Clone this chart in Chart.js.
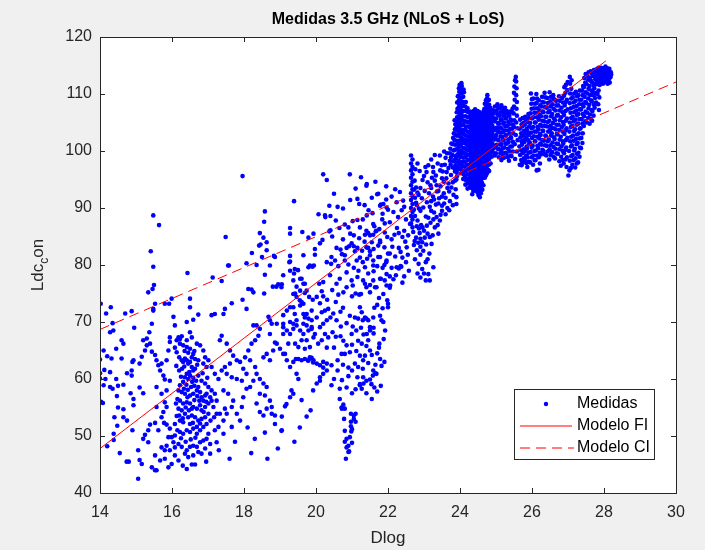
<!DOCTYPE html>
<html>
<head>
<meta charset="utf-8">
<title>Medidas 3.5 GHz (NLoS + LoS)</title>
<script src="https://cdn.jsdelivr.net/npm/chart.js@4.4.0/dist/chart.umd.min.js"></script>
<style>
  html, body { margin: 0; padding: 0; background: #f0f0f0; }
  canvas { display: block; }
</style>
</head>
<body>
<canvas id="grafico" width="705" height="550"></canvas>
<script>
// Textos y ejes
const titulo = "Medidas 3.5 GHz (NLoS + LoS)";
const etiquetaX = "Dlog";
const etiquetaY = ["Ldc", "c", "on"]; // Ldc_con (c como subíndice)
const nombresSeries = ["Medidas", "Modelo FI", "Modelo CI"];
const ticksX = [14, 16, 18, 20, 22, 24, 26, 28, 30];
const ticksY = [40, 50, 60, 70, 80, 90, 100, 110, 120];

// Modelos (rectas)
const modeloFIx = [14, 28.05];
const modeloFIy = [47.8, 115.8];
const modeloCIx = [14, 30];
const modeloCIy = [68.7, 112.1];

// Medidas [Dlog, Ldc], leidas por zonas del grafico
const medidas14_16 = [[14.02,73.2],[14.17,71.5],[14.3,72.6],[14.35,69.8],[14.28,68.2],[14.37,68.5],[14.6,66.8],[14.65,66.2],[14.45,65.3],[14.1,65.0],[14.0,63.4],[14.32,63.6],[14.6,63.6],[14.12,61.6],[14.28,61.2],[14.0,60.1],[14.15,60.0],[14.45,60.0],[14.1,58.9],[14.28,58.6],[14.5,58.8],[14.65,59.0],[14.35,58.3],[14.08,55.8],[14.47,57.0],[14.5,55.0],[14.65,54.7],[14.4,53.3],[14.65,53.3],[14.75,52.7],[14.38,50.4],[14.48,51.8],[14.38,49.3],[14.2,48.2],[14.0,61.0],[14.03,56.0],[14.2,64.0],[14.75,61.0],[14.85,57.5],[14.9,63.0],[14.95,69.0],[14.8,45.5],[14.9,51.0],[14.55,47.0],[14.7,71.5],[14.88,71.9],
  [15.06,47.5],[15.06,42.5],[15.16,45.1],[15.2,49.5],[15.25,50.2],[15.34,48.9],[15.44,44.5],[15.53,44.0],[15.53,46.6],[15.34,51.0],[15.39,52.0],[15.53,52.3],[14.93,56.5],[14.93,55.4],[15.2,57.5],[15.1,58.5],[14.88,61.5],[14.88,60.6],[15.1,62.7],[15.16,63.9],[14.93,63.3],[15.25,65.0],[15.3,65.9],[15.44,64.8],[15.53,64.2],[15.39,66.2],[15.2,66.8],[15.3,67.1],[15.37,68.2],[15.44,69.7],[15.48,72.0],[15.53,73.2],[15.5,76.5],[15.46,75.8],[15.48,79.7],[15.34,75.2],[15.41,82.4],[15.48,88.7],[15.64,87.0],[15.57,63.3],[15.62,62.4],[15.67,61.5],[15.71,62.7],[15.76,60.6],[15.8,59.9],[15.57,58.6],[15.71,57.4],[15.8,55.9],[15.85,55.1],[15.57,55.1],[15.71,53.3],[15.76,54.2],[15.62,51.0],[15.78,52.3],[15.85,52.0],[15.71,48.0],[15.8,47.5],[15.85,48.3],[15.94,47.5],[15.9,49.8],[15.94,51.3],[15.85,58.0],[15.94,59.7],[15.85,63.3],[15.9,65.0],[15.94,66.5],[15.94,67.3],[15.92,73.2],[15.8,73.2],[15.99,74.1],[15.8,46.0],[15.67,45.7],[15.57,44.0],[15.9,44.5],[15.99,45.1],[15.99,49.8],[15.48,72.3],[14.74,45.5],[15.1,45.8]];

const medidas16_18 = [[16.08,65.5],[16.13,64.7],[16.2,63.8],[16.27,63.3],[16.31,63.0],[16.36,63.6],[16.41,63.3],[16.45,62.7],[16.5,63.0],[16.55,62.1],[16.59,61.5],[16.48,61.2],[16.41,60.9],[16.36,60.3],[16.45,60.0],[16.5,60.6],[16.59,60.2],[16.67,59.7],[16.31,59.5],[16.22,58.9],[16.18,58.0],[16.27,57.7],[16.36,57.4],[16.43,56.8],[16.5,57.1],[16.59,57.4],[16.69,58.0],[16.73,58.6],[16.78,57.7],[16.82,56.8],[16.87,56.2],[16.92,57.1],[16.96,57.4],[17.06,56.8],[17.1,56.2],[17.01,55.7],[16.92,55.1],[16.82,54.5],[16.78,55.4],[16.69,54.8],[16.59,55.1],[16.5,55.7],[16.41,55.9],[16.31,55.7],[16.22,56.2],[16.15,56.5],[16.11,55.7],[16.18,54.8],[16.27,54.5],[16.36,53.9],[16.45,53.3],[16.55,53.6],[16.64,53.3],[16.73,52.7],[16.82,53.0],[16.92,53.3],[17.01,53.9],[16.96,52.1],[16.87,51.6],[16.78,51.0],[16.69,51.6],[16.59,51.3],[16.5,50.7],[16.41,51.0],[16.31,50.4],[16.22,50.7],[16.15,51.0],[16.08,50.1],[16.04,48.9],[16.18,48.6],[16.27,48.1],[16.41,47.5],[16.5,48.1],[16.59,48.3],[16.69,48.1],[16.78,48.9],[16.87,49.2],[16.96,49.5],[17.06,48.6],[16.92,47.8],[16.82,46.9],[16.73,47.2],[16.59,46.6],[16.45,46.3],[16.36,46.9],[16.55,45.0],[16.64,45.0],[16.41,44.2],[16.18,45.7],[16.08,46.6],[16.08,48.0],[16.22,52.7],[16.08,52.1],[16.31,52.4],[16.5,52.1],[16.69,50.4],[17.01,50.4],[17.07,52.7],[17.17,53.3],[17.24,53.9],[17.15,55.1],[17.24,56.2],[17.19,57.4],[17.1,58.0],[17.01,58.6],[16.92,59.2],[16.82,59.7],[16.73,60.6],[16.64,61.8],[16.55,63.8],[16.59,64.4],[16.5,65.3],[16.41,65.6],[16.31,65.9],[16.22,66.2],[16.13,66.8],[16.18,67.3],[16.27,67.5],[16.41,66.8],[16.69,66.2],[16.78,65.9],[16.87,65.0],[16.92,63.8],[17.01,63.3],[17.1,62.1],[17.19,60.9],[17.29,60.0],[16.96,62.1],[16.87,62.7],[16.73,63.3],[16.64,63.5],[16.55,67.3],[16.5,68.2],[16.41,70.0],[16.59,70.4],[16.73,71.3],[16.5,72.6],[16.04,70.9],[16.08,69.4],[16.22,67.0],[16.5,74.1],[16.43,78.6],[17.13,77.8],[17.38,77.2],[17.19,71.4],[17.1,71.2],[17.47,72.3],[17.43,71.4],[17.66,73.3],[17.38,67.6],[17.33,66.8],[17.52,66.2],[17.61,65.0],[17.7,64.1],[17.8,63.3],[17.61,62.7],[17.47,62.1],[17.38,61.5],[17.52,60.9],[17.66,60.3],[17.8,60.0],[17.94,59.7],[17.43,58.0],[17.56,57.4],[17.7,56.2],[17.66,55.1],[17.47,54.8],[17.33,53.9],[17.43,52.7],[17.29,51.6],[17.19,51.0],[17.06,46.9],[17.24,48.9],[17.52,53.9],[17.8,53.9],[17.94,55.1],[17.98,56.8],[17.98,61.8],[17.89,63.0],[17.56,79.9],[17.96,73.9],[17.96,95.6],[17.49,84.9],[17.58,79.9],[17.43,50.4],[17.66,51.6],[17.89,52.7],[16.3,44.8],[17.3,47.5],[17.6,46.0],[16.95,45.5],[17.75,49.0],
  [16.12,62.3],[16.2,61.5],[16.28,61.8],[16.34,62.2],[16.25,60.4],[16.4,59.0],[16.53,58.6],[16.62,58.8],[16.7,57.0],[16.76,56.2],[16.62,56.3],[16.55,54.8],[16.47,54.5],[16.38,55.0],[16.3,53.1],[16.2,53.6],[16.13,53.5],[16.58,52.3],[16.78,52.2],[16.88,54.2],[16.95,56.0],[16.98,60.2],[16.85,61.0],[16.7,62.5],[16.62,64.9],[16.45,64.6],[16.35,64.9],[16.25,49.6],[16.38,49.0],[16.52,49.4],[16.65,49.7],[16.44,58.1],[16.33,58.3],[16.56,59.5]];

const medidas18_20 = [[18.07,58.3],[18.17,58.6],[18.26,59.7],[18.07,60.9],[18.03,63.8],[18.12,65.0],[18.21,66.2],[18.31,66.8],[18.4,67.6],[18.44,68.8],[18.35,69.4],[18.26,69.4],[18.17,63.3],[18.31,62.1],[18.35,60.9],[18.44,60.0],[18.54,59.2],[18.63,58.6],[18.44,57.4],[18.58,57.1],[18.72,56.2],[18.77,55.1],[18.63,54.8],[18.54,53.6],[18.44,54.2],[18.35,55.7],[18.77,53.9],[18.86,53.6],[19.05,53.4],[19.05,51.0],[18.54,63.8],[18.63,64.4],[18.72,63.3],[18.81,65.0],[18.91,66.2],[19.0,65.3],[19.09,64.4],[19.19,63.3],[19.28,62.1],[19.37,63.0],[19.51,63.5],[19.6,63.3],[19.69,63.5],[19.79,63.3],[19.83,63.8],[19.93,63.3],[19.46,60.9],[19.51,60.0],[19.32,58.0],[19.37,57.4],[19.28,56.8],[18.72,70.3],[18.68,70.9],[18.91,69.7],[19.09,69.1],[19.19,68.5],[19.28,67.9],[19.37,68.8],[19.46,69.4],[19.56,68.5],[19.65,67.9],[19.74,66.8],[19.83,65.6],[19.42,66.2],[19.51,65.6],[19.6,66.8],[19.69,65.3],[19.79,68.5],[19.88,69.1],[19.93,67.3],[18.07,80.3],[18.58,78.3],[18.72,79.9],[19.26,80.5],[19.28,79.0],[19.83,79.9],[19.94,79.9],[18.07,72.3],[18.26,75.2],[18.21,75.7],[18.12,75.8],[18.56,75.0],[18.8,76.2],[18.95,76.6],[19.05,76.6],[19.09,78.2],[19.37,77.3],[19.39,78.5],[19.56,77.6],[19.65,76.7],[19.79,79.6],[19.46,76.2],[19.56,75.5],[19.69,75.1],[19.42,75.0],[19.46,74.4],[19.6,73.5],[19.56,72.9],[19.28,72.6],[19.19,72.0],[19.09,71.2],[19.81,74.4],[19.91,73.9],[19.88,72.0],[19.74,71.4],[19.65,71.4],[19.79,70.6],[19.88,70.3],[19.46,70.3],[19.37,69.7],[19.28,70.0],[19.65,69.7],[18.77,69.7],[18.22,82.1],[18.35,80.0],[18.5,81.4],[18.46,83.6],[18.54,84.8],[18.44,85.6],[18.42,83.4],[18.56,87.6],[18.58,89.4],[18.63,84.0],[18.63,82.6],[18.83,81.6],[19.28,86.5],[19.28,85.5],[19.39,91.2],[19.28,81.6],[19.28,80.6],[19.62,85.8],[19.79,84.8],[19.93,85.5],[19.97,82.8],[19.97,81.8],[19.5,79.1],[18.86,81.4],[19.65,81.7],[19.9,79.7],[19.41,79.3],[19.6,77.6],[19.69,76.7],[19.74,75.5],[18.9,76.2],[19.04,76.1],[19.37,74.9],[19.55,73.8],[19.65,73.2],[19.37,72.6],[19.41,71.4],[19.69,70.8],[19.74,69.4],[19.88,68.8],[19.97,67.9],[18.72,67.9],[18.86,66.4],[19.09,69.7],[19.09,67.9],[19.23,66.2],[19.14,64.4],[19.44,63.5],[19.78,63.2],[19.88,63.7],[19.92,62.9],[19.92,58.0],[19.6,56.3],[19.74,53.4],[19.04,50.9],[19.14,55.2],[19.18,55.6],[18.86,52.1],[18.94,47.8],[18.58,50.6],[18.3,49.5],[18.1,51.5],[19.4,49.0],[19.55,51.5],[19.85,54.5],[18.65,46.0],[18.2,47.0]];

const medidas20_22 = [[20.02,62.7],[20.11,62.4],[20.2,63.0],[20.3,62.7],[20.02,59.2],[20.11,60.3],[20.2,60.9],[20.06,66.2],[20.16,66.8],[20.25,67.9],[20.34,67.3],[20.11,69.1],[20.2,69.7],[20.3,70.3],[20.09,76.7],[20.2,77.0],[20.02,74.4],[20.16,75.4],[20.2,74.5],[20.31,73.9],[20.11,73.3],[20.25,72.0],[20.07,88.9],[20.2,95.9],[20.3,94.9],[20.26,88.4],[20.37,90.4],[20.37,85.9],[20.11,83.8],[20.3,80.5],[20.94,95.9],[21.4,93.9],[20.25,88.7],[21.15,91.6],[21.2,90.7],[21.7,92.4],[21.78,90.4],[21.87,90.7],[21.46,89.6],[21.57,89.1],[22.0,89.7],[20.8,87.1],[21.02,87.7],[21.15,87.9],[20.4,86.1],[20.18,84.4],[21.22,86.6],[21.36,85.3],[21.45,85.6],[21.5,85.2],[21.59,85.3],[21.66,85.9],[21.76,86.3],[21.91,87.3],[21.91,85.7],[21.98,84.9],[20.85,83.0],[20.92,83.3],[20.99,83.8],[21.05,83.3],[21.15,83.0],[21.08,82.4],[20.57,83.0],[20.68,82.7],[21.45,83.0],[21.5,82.4],[21.73,83.4],[21.78,84.0],[20.43,81.4],[20.53,80.8],[20.8,81.7],[20.8,80.8],[21.13,80.8],[21.22,81.3],[21.42,81.1],[21.59,80.8],[21.78,81.4],[21.96,80.8],[20.39,78.2],[20.57,76.7],[20.66,77.6],[20.85,78.7],[20.99,77.3],[20.76,75.2],[21.31,77.3],[21.36,76.7],[21.4,76.1],[21.5,75.2],[21.68,76.1],[21.78,77.6],[21.91,77.3],[21.96,76.4],[21.87,74.9],[20.16,71.7],[20.34,72.3],[20.02,70.8],[20.46,68.2],[20.57,70.3],[20.69,69.2],[20.94,71.1],[21.08,70.8],[21.17,70.6],[21.22,72.6],[21.27,71.7],[21.36,70.8],[21.45,70.3],[21.5,69.1],[21.41,67.9],[21.45,66.8],[21.59,70.8],[21.78,71.1],[21.82,70.3],[21.98,73.8],[22.0,72.6],[20.43,62.4],[20.71,64.4],[20.8,64.4],[20.94,64.7],[20.76,66.7],[20.99,67.9],[21.17,66.7],[21.27,66.2],[21.4,65.8],[21.5,65.0],[21.36,64.1],[21.08,62.7],[21.17,62.1],[21.31,60.3],[21.4,59.7],[21.54,59.1],[21.59,61.5],[21.68,60.9],[21.22,59.1],[21.27,58.3],[20.11,59.7],[20.43,58.9],[20.66,58.3],[20.66,56.5],[20.71,55.0],[20.76,55.5],[20.8,54.8],[20.97,53.9],[21.05,53.6],[20.97,52.5],[20.97,51.7],[20.8,50.9],[20.85,49.5],[20.94,49.8],[20.9,48.3],[20.8,49.0],[20.83,46.0],[20.9,47.2],[21.0,48.8],[21.41,94.2],[21.73,92.5],[21.41,88.7],[21.8,90.6],[21.96,90.1],[21.59,87.2],[21.4,86.0],[21.68,86.0],[21.78,84.3],[21.4,83.1],[21.5,81.7],[21.3,80.5],[21.36,79.6],[21.59,79.9],[21.73,81.4],[21.9,83.1],[21.96,78.4],[21.8,77.6],[21.59,77.3],[21.64,76.1],[20.5,65.5],[20.6,61.5],[20.9,60.5],[21.0,57.5],[20.55,73.5],[20.75,72.5],[21.0,74.5],[21.2,74.8],[20.45,85.0],[20.65,86.5],[20.95,85.5],[21.3,88.0],[21.6,82.8],[21.85,79.5],[22.0,82.0],[21.7,73.0],[21.6,68.0],[21.75,65.5],[21.9,63.0],[21.8,58.8],[21.7,57.8],[21.55,56.5],[21.65,62.5],[21.92,68.5],[21.35,90.5],[20.6,90.2],
  [21.1,53.9],[21.05,53.0],[21.1,52.5],[20.98,50.8],[21.0,51.2],[20.72,54.8],[20.78,53.0],[20.85,48.0],[20.92,47.3],[21.22,58.9],[21.32,59.2],[21.5,59.9],[21.58,60.6],[21.65,61.0],[21.78,63.5],[21.82,62.3],[21.76,66.2],[21.88,67.0],[21.87,70.0],[22.0,73.2],[22.05,76.0],[22.05,78.0],[22.1,79.5],[22.3,79.4],[22.35,79.8],[21.5,68.5],[21.6,69.0],[21.3,70.3],[21.4,70.6],[21.0,61.5],[20.9,62.0],[21.31,63.3],[21.1,75.0],[21.25,74.9],[21.5,76.5],[21.6,78.9],[21.9,80.0],[21.95,80.5],[20.2,62.0],[20.3,61.5],
  [20.42,80.2],[20.62,79.8],[20.72,81.9],[20.9,80.1],[21.05,79.5],[21.18,79.0],[21.28,82.5],[21.35,84.1],[21.55,84.0],[21.62,86.8],[21.84,88.0],[21.95,91.5],[22.1,92.0],[22.2,93.3],[22.28,88.4],[22.38,89.6],[22.45,90.2],[22.18,85.3],[22.12,83.2],[22.35,82.3],[22.48,84.1],[22.22,78.2],[22.4,76.9],[22.55,81.8],[22.58,79.0],[21.2,84.7],[21.05,85.2],[20.9,86.6],[20.75,84.5],[20.55,87.8],[20.4,88.6],[20.5,92.5],[20.75,89.9],[20.95,91.4],[21.1,93.4],[21.25,95.4],[21.55,91.8],[21.65,94.6],[21.95,93.8],[20.45,75.6],[20.62,74.8],[20.85,76.1],[21.02,76.4],[21.15,77.9],[21.45,78.5],[21.7,79.8],[20.55,67.4],[20.68,67.5],[20.85,69.8],[21.02,69.2],[21.12,68.5],[21.25,69.0],[21.32,67.8],[21.62,72.5],[21.75,74.2],[21.85,72.4],[20.6,63.3],[20.75,62.5],[20.85,65.9],[21.0,66.0],[21.12,64.9],[21.22,64.1],[21.3,61.8],[21.45,62.8],[21.55,64.2],[21.7,64.5],[20.5,60.0],[20.72,59.8],[20.85,58.5],[21.1,58.2],[21.15,60.3],[21.4,57.5],[21.62,58.5],[20.3,65.5],[20.4,70.8],[20.48,71.5],[20.68,71.8]];

const medidas22_24 = [[22.33,92.8],[22.24,91.0],[22.42,91.3],[22.15,89.3],[21.85,89.0],[22.05,87.5],[22.25,86.5],[22.3,85.6],[22.4,84.9],[22.05,82.0],[22.3,83.0],[22.4,81.3],[22.24,79.6],[22.06,76.4],[22.37,79.7],[22.1,84.5],[22.5,88.0],[22.45,86.0],[22.2,81.5],[22.52,83.1],[22.56,85.2],[22.61,87.2],[22.15,77.5],[22.45,78.0],[22.5,80.5],
  [22.64,99.2],[22.68,98.5],[22.64,97.8],[22.68,97.2],[22.64,96.6],[22.68,95.9],[22.64,95.3],[22.68,94.6],[22.64,94.0],[22.68,93.3],[22.64,92.6],[22.68,92.0],[22.64,91.4],[22.68,90.7],[22.64,90.0],[22.68,89.3],[22.64,88.6],[22.68,88.0],[22.64,87.3],[22.68,86.6],
  [22.72,93.2],[22.75,91.8],[22.8,90.5],[22.85,92.3],[22.9,89.5],[22.75,88.6],[22.82,87.8],[22.92,87.0],[22.7,85.8],[22.78,84.8],[22.88,85.6],[22.95,84.0],[22.72,83.5],[22.8,82.6],[22.9,81.8],[22.98,82.5],[22.75,81.0],[22.85,80.2],[22.95,79.3],[22.82,78.5],[22.9,77.8],[23.0,78.5],[23.05,77.3],[23.12,78.4],[23.16,77.3],[23.26,79.6],[23.05,80.5],[23.0,86.0],[23.05,88.5],[23.08,91.0],[23.02,93.0],[23.1,94.5],[23.0,95.6],[23.07,96.3],[23.12,97.5],[23.21,83.7],[23.16,84.9],[23.3,86.6],[23.4,85.5],[23.35,88.4],[23.44,87.8],[23.5,90.4],[23.4,90.8],[23.25,92.0],[23.33,95.7],[23.44,99.2],[23.49,97.5],[23.63,96.3],[23.72,98.3],[23.86,96.9],[23.7,92.9],[23.65,93.5],[23.9,91.9],[23.9,90.7],[23.2,89.5],[23.15,82.0],[23.1,81.0],[22.9,83.2],[23.35,94.0],[23.55,94.6],[23.6,91.8],[23.8,94.5],[23.75,95.8],
  [23.2,98.5],[23.3,99.3],[23.25,97.2],[23.45,96.6],[23.5,95.2],[23.6,98.8],[23.2,93.5],[23.28,91.5],[23.55,92.6],[23.65,90.0],[23.5,89.5],[23.7,89.6],[23.8,90.5],[23.4,93.0],
  [22.74,94.8],[22.78,93.6],[22.82,92.7],[22.78,90.9],[22.86,89.9],[22.72,89.7],[22.8,86.8],[22.86,86.4],[22.74,84.2],[22.84,83.9],[22.9,84.6],[22.96,86.6],[23.02,84.8],[23.06,83.6],[23.08,86.9],[23.12,88.3],[23.16,90.2],[23.2,91.2],[23.14,92.6],[23.18,94.0],[23.22,95.3],[23.26,96.3],[23.3,94.8],[23.36,92.9],[23.42,91.7],[23.46,93.8],[23.52,96.4],[23.58,97.6],[23.62,95.2],[23.68,94.3],[23.76,93.6],[23.82,92.3],[23.86,94.8],[23.88,93.3],[23.9,95.0],[23.68,97.0],[23.64,99.6],[23.56,99.9],[23.38,97.8],[23.28,89.2],[23.33,90.6],[23.1,85.5],[23.18,87.4],[23.24,85.2],[22.98,90.1],[22.94,91.7],[22.9,93.5],[22.96,94.9],[23.04,97.2],[22.88,96.5],[22.82,97.8],[22.76,96.8],[23.5,92.0],[23.72,91.2],[23.56,90.8],[23.6,88.9],[23.46,88.8],[23.38,87.0],[23.26,88.0],
  [23.74,97.6],[23.75,98.9],[23.73,100.4],[23.76,101.3],[23.72,99.6],[23.8,97.1],[23.81,98.2],[23.79,99.3],[23.82,100.1],[23.8,101.2],[23.81,102.3],[23.83,103.1],[23.86,96.4],[23.87,97.5],[23.85,98.4],[23.88,99.1],[23.86,100.2],[23.87,101.1],[23.85,101.9],[23.88,102.9],[23.86,103.8],[23.87,104.7],[23.85,105.4],
  [23.92,95.6],[23.91,96.3],[23.93,97.2],[23.92,97.9],[23.9,98.8],[23.93,99.4],[23.91,100.3],[23.92,101.2],[23.93,101.8],[23.91,102.7],[23.92,103.6],[23.9,104.2],[23.93,105.1],[23.92,105.9],[23.91,106.8],[23.93,107.4],[23.92,108.5],[23.94,109.6],
  [23.97,96.9],[23.98,97.8],[23.96,98.3],[23.97,99.2],[23.98,99.9],[23.96,100.6],[23.97,101.3],[23.98,101.8],[23.96,102.7],[23.97,103.4],[23.98,104.1],[23.97,104.6],[23.96,105.5],[23.98,106.2],[23.97,106.9],[23.96,107.6],[23.98,108.1],[23.97,108.9],[23.96,109.7],[23.98,110.4],[23.97,111.0],[23.99,111.6]];

const medidas24_25 = [[24.03,96.1],[24.02,96.8],[24.04,97.5],[24.03,98.0],[24.02,98.9],[24.04,99.6],[24.03,100.1],[24.02,100.9],[24.04,101.7],[24.03,102.4],[24.02,103.1],[24.04,103.6],[24.03,104.5],[24.02,105.2],[24.04,105.8],[24.03,106.6],[24.02,107.3],[24.04,107.9],[24.03,108.7],[24.02,109.3],[24.04,110.1],[24.03,110.8],[24.05,111.4],[24.04,111.9],
  [24.09,95.1],[24.1,95.9],[24.08,96.5],[24.09,97.3],[24.1,98.2],[24.08,98.9],[24.09,99.7],[24.1,100.5],[24.08,101.4],[24.09,102.1],[24.1,103.0],[24.08,103.7],[24.09,104.6],[24.1,105.3],[24.08,106.1],[24.09,107.0],[24.1,107.9],[24.08,108.6],[24.09,109.5],[24.11,110.3],[24.1,110.8],
  [24.15,94.1],[24.16,94.9],[24.14,95.6],[24.15,96.5],[24.16,97.1],[24.14,98.0],[24.15,98.9],[24.16,99.5],[24.14,100.4],[24.15,101.3],[24.16,101.9],[24.14,102.8],[24.15,103.7],[24.16,104.3],[24.14,105.2],[24.15,106.1],[24.17,107.0],[24.15,107.8],[24.16,108.6],
  [24.21,93.4],[24.22,94.3],[24.2,95.1],[24.21,95.9],[24.22,96.8],[24.2,97.6],[24.21,98.4],[24.22,99.3],[24.2,100.1],[24.21,100.9],[24.22,101.8],[24.2,102.6],[24.21,103.4],[24.22,104.3],[24.2,105.1],[24.21,105.9],[24.23,106.8],[24.21,107.5],
  [24.27,93.6],[24.27,94.7],[24.28,95.5],[24.27,96.6],[24.26,97.4],[24.27,98.5],[24.28,99.3],[24.27,100.4],[24.26,101.2],[24.27,102.3],[24.28,103.1],[24.27,104.2],[24.26,105.0],[24.27,106.1],[24.28,106.9],
  [24.34,92.4],[24.33,93.5],[24.34,94.3],[24.35,95.4],[24.34,96.2],[24.33,97.3],[24.34,98.1],[24.35,99.2],[24.34,100.0],[24.33,101.1],[24.34,101.9],[24.35,103.0],[24.34,103.8],[24.33,104.9],[24.34,105.7],[24.35,106.6],
  [24.41,93.1],[24.4,94.0],[24.41,95.1],[24.42,95.9],[24.41,97.0],[24.4,97.8],[24.41,98.9],[24.42,99.7],[24.41,100.8],[24.4,101.6],[24.41,102.7],[24.42,103.5],[24.41,104.6],[24.4,105.4],[24.41,106.5],[24.42,107.3],
  [24.48,92.8],[24.47,93.9],[24.48,94.7],[24.49,95.8],[24.48,96.6],[24.47,97.7],[24.48,98.5],[24.49,99.6],[24.48,100.4],[24.47,101.5],[24.48,102.3],[24.49,103.4],[24.48,104.2],[24.47,105.3],[24.48,106.1],[24.49,107.0],
  [24.55,91.9],[24.54,92.9],[24.55,93.8],[24.56,94.6],[24.55,95.5],[24.54,96.5],[24.55,97.3],[24.56,98.4],[24.55,99.2],[24.54,100.3],[24.55,101.1],[24.56,102.2],[24.55,103.0],[24.54,104.1],[24.55,104.9],[24.56,106.0],[24.55,106.8],
  [24.62,93.2],[24.61,94.4],[24.62,95.2],[24.63,96.3],[24.62,97.1],[24.61,98.2],[24.62,99.0],[24.63,100.1],[24.62,100.9],[24.61,102.0],[24.62,102.8],[24.63,103.9],[24.62,104.7],[24.61,105.8],[24.62,106.4],
  [24.69,95.3],[24.68,96.2],[24.69,97.0],[24.7,98.1],[24.69,98.9],[24.68,100.0],[24.69,100.8],[24.7,101.9],[24.69,102.7],[24.68,103.8],[24.69,104.6],[24.7,105.7],[24.69,106.5],[24.68,107.4],[24.69,108.3],
  [24.75,96.1],[24.74,97.2],[24.75,98.0],[24.76,99.1],[24.75,99.9],[24.74,101.0],[24.75,101.8],[24.76,102.9],[24.75,103.7],[24.74,104.8],[24.75,105.6],[24.76,106.7],[24.75,107.5],[24.74,108.4],[24.75,109.2],[24.76,109.8],
  [24.81,96.5],[24.8,97.6],[24.81,98.6],[24.82,99.7],[24.81,100.5],[24.8,101.6],[24.81,102.4],[24.82,103.5],[24.81,104.3],[24.8,105.4],[24.81,106.2],[24.82,107.3],[24.81,108.1],[24.8,109.0],
  [24.88,99.0],[24.87,100.2],[24.88,101.3],[24.89,102.1],[24.88,103.2],[24.87,104.0],[24.88,105.1],[24.89,105.9],[24.88,107.0],
  [24.93,100.5],[24.95,102.0],[24.94,103.6],[24.96,105.2],[24.93,106.6],[24.97,107.8],
  [24.3,94.1],[24.31,95.1],[24.3,96.0],[24.31,97.0],[24.3,97.9],[24.31,98.9],[24.3,99.8],[24.31,100.8],[24.3,101.7],[24.31,102.7],[24.3,103.6],[24.31,104.6],[24.3,105.5],[24.31,106.5],
  [24.37,93.0],[24.38,93.9],[24.37,94.8],[24.38,95.8],[24.37,96.7],[24.38,97.7],[24.37,98.6],[24.38,99.6],[24.37,100.5],[24.38,101.5],[24.37,102.4],[24.38,103.4],[24.37,104.3],[24.38,105.3],[24.37,106.2],[24.38,107.0],
  [24.44,93.5],[24.45,94.4],[24.44,95.5],[24.45,96.4],[24.44,97.4],[24.45,98.3],[24.44,99.3],[24.45,100.2],[24.44,101.2],[24.45,102.1],[24.44,103.1],[24.45,104.0],[24.44,105.0],[24.45,105.9],[24.44,106.9],
  [24.51,92.3],[24.52,93.4],[24.51,94.2],[24.52,95.2],[24.51,96.1],[24.52,97.1],[24.51,98.0],[24.52,99.0],[24.51,99.9],[24.52,100.9],[24.51,101.8],[24.52,102.8],[24.51,103.7],[24.52,104.7],[24.51,105.6],[24.52,106.5],
  [24.58,92.6],[24.59,93.5],[24.58,94.9],[24.59,95.8],[24.58,96.8],[24.59,97.7],[24.58,98.7],[24.59,99.6],[24.58,100.6],[24.59,101.5],[24.58,102.5],[24.59,103.4],[24.58,104.4],[24.59,105.3],[24.58,106.1],
  [24.65,94.0],[24.66,95.7],[24.65,96.6],[24.66,97.6],[24.65,98.5],[24.66,99.5],[24.65,100.4],[24.66,101.4],[24.65,102.3],[24.66,103.3],[24.65,104.2],[24.66,105.2],[24.65,106.1],[24.66,107.0],
  [24.72,95.7],[24.73,96.6],[24.72,97.6],[24.73,98.5],[24.72,99.5],[24.73,100.4],[24.72,101.4],[24.73,102.3],[24.72,103.3],[24.73,104.2],[24.72,105.2],[24.73,106.1],[24.72,107.0],[24.73,108.0],[24.72,108.9],
  [24.78,96.7],[24.79,97.7],[24.78,98.6],[24.79,99.5],[24.78,100.5],[24.79,101.4],[24.78,102.4],[24.79,103.3],[24.78,104.3],[24.79,105.2],[24.78,106.2],[24.79,107.1],[24.78,108.0],[24.79,108.9],
  [24.85,97.8],[24.84,99.4],[24.85,100.8],[24.84,101.8],[24.85,102.7],[24.84,103.6],[24.85,104.6],[24.84,105.5],[24.85,106.5],[24.84,107.6],
  [24.91,99.8],[24.9,101.3],[24.91,102.8],[24.9,104.4],[24.91,105.9],[24.9,107.2],
  [24.97,99.2],[24.98,100.9],[24.97,102.4],[24.98,104.0],[24.97,105.6],[24.98,107.0]];

const medidas25_26 = [[25.0,99.6],[25.02,101.1],[25.01,102.8],[25.03,104.1],[25.0,105.7],[25.02,107.0],[25.04,108.2],
  [25.08,98.9],[25.09,100.3],[25.07,101.9],[25.1,103.3],[25.08,104.8],[25.09,106.2],[25.11,107.5],
  [25.15,98.4],[25.16,99.8],[25.14,101.2],[25.17,102.5],[25.15,104.0],[25.16,105.5],[25.18,106.9],[25.15,108.0],
  [25.22,98.8],[25.23,100.6],[25.21,102.0],[25.24,103.6],[25.22,105.0],[25.23,106.4],[25.25,107.6],
  [25.29,99.5],[25.3,101.3],[25.28,102.7],[25.31,104.4],[25.29,105.8],[25.3,107.0],
  [25.36,98.3],[25.37,100.0],[25.35,101.6],[25.38,103.1],[25.36,104.7],[25.37,106.2],
  [25.43,99.1],[25.44,100.8],[25.42,102.3],[25.45,103.9],[25.43,105.3],[25.44,106.8],
  [25.5,104.2],[25.51,105.4],[25.49,106.6],[25.5,107.8],[25.52,109.0],[25.5,110.2],[25.51,111.3],[25.53,112.4],[25.55,113.0],[25.56,112.2],[25.57,111.0],[25.56,109.8],[25.58,108.6],[25.57,107.4],[25.58,106.2],[25.56,105.0],[25.6,104.0],[25.55,102.8],[25.52,101.2],[25.58,99.9],[25.53,98.6],[25.6,101.9],
  [25.66,97.6],[25.67,99.3],[25.65,100.8],[25.68,102.4],[25.66,103.9],[25.67,105.5],
  [25.73,97.9],[25.74,99.6],[25.72,101.1],[25.75,102.7],[25.73,104.3],[25.74,105.8],
  [25.8,98.4],[25.81,100.0],[25.79,101.6],[25.82,103.1],[25.8,104.6],[25.81,106.0],
  [25.87,97.2],[25.88,98.9],[25.86,100.4],[25.89,101.9],[25.87,103.5],[25.88,105.1],[25.9,106.5],[25.71,97.5],
  [25.95,98.0],[25.96,99.8],[25.94,101.5],[25.97,103.2],[25.95,104.9],[25.96,106.6],[25.98,108.3],[25.97,110.1],
  [25.04,100.4],[25.05,102.0],[25.04,103.5],[25.05,104.9],[25.04,106.4],[25.06,107.6],
  [25.12,99.6],[25.12,101.1],[25.13,102.6],[25.12,104.1],[25.13,105.5],[25.13,106.8],
  [25.19,99.1],[25.19,100.5],[25.2,101.9],[25.19,103.3],[25.2,104.8],[25.2,106.2],[25.21,107.4],
  [25.26,99.7],[25.26,101.3],[25.27,102.8],[25.26,104.3],[25.27,105.7],[25.27,107.0],
  [25.33,98.9],[25.33,100.4],[25.34,102.0],[25.33,103.6],[25.34,105.1],[25.33,106.5],
  [25.4,99.2],[25.4,100.8],[25.41,102.4],[25.4,103.9],[25.41,105.5],[25.4,106.9],
  [25.47,99.9],[25.47,101.6],[25.48,103.1],[25.47,104.6],[25.46,107.4],
  [25.7,98.4],[25.7,100.1],[25.71,101.7],[25.7,103.1],[25.71,104.7],
  [25.77,98.7],[25.77,100.3],[25.78,101.9],[25.77,103.5],[25.78,105.0],
  [25.84,97.9],[25.84,99.2],[25.85,100.8],[25.84,102.4],[25.85,103.9],[25.84,105.5],
  [25.91,98.1],[25.91,99.7],[25.92,101.2],[25.91,102.8],[25.92,104.3],[25.91,105.8],
  [25.99,98.9],[25.99,100.6],[26.0,102.3],[25.99,104.0],[26.0,105.7],[25.99,107.4],[26.0,109.1]];

const medidas26_27 = [[26.03,97.6],[26.04,99.2],[26.02,100.9],[26.05,102.6],[26.03,104.2],[26.04,105.9],[26.06,107.5],[26.04,109.2],
  [26.1,98.4],[26.11,100.1],[26.09,101.7],[26.12,103.4],[26.1,105.0],[26.11,106.7],[26.13,108.4],[26.12,110.0],
  [26.18,96.7],[26.19,98.9],[26.17,100.5],[26.2,102.2],[26.18,103.8],[26.19,105.5],[26.21,107.1],[26.19,108.9],[26.13,96.6],
  [26.25,99.4],[26.26,101.1],[26.24,102.8],[26.27,104.4],[26.25,106.1],[26.26,107.8],[26.28,109.5],
  [26.32,100.0],[26.33,101.8],[26.31,103.5],[26.34,105.2],[26.32,106.8],[26.33,108.5],[26.35,110.2],
  [26.4,99.2],[26.41,100.9],[26.39,102.6],[26.42,104.3],[26.4,106.0],[26.41,107.6],[26.43,109.3],
  [26.48,98.5],[26.49,100.3],[26.47,102.0],[26.5,103.7],[26.48,105.3],[26.49,107.0],[26.51,108.7],[26.49,110.3],
  [26.56,99.8],[26.57,101.5],[26.55,103.1],[26.58,104.9],[26.56,106.5],[26.57,108.2],[26.59,109.8],
  [26.64,98.7],[26.65,100.4],[26.63,102.1],[26.66,103.8],[26.64,105.4],[26.65,107.1],[26.67,108.8],
  [26.72,99.5],[26.73,101.2],[26.71,102.9],[26.74,104.6],[26.72,106.3],[26.73,108.0],[26.75,109.6],[26.8,97.4],
  [26.81,99.0],[26.82,100.8],[26.8,102.5],[26.83,104.2],[26.81,105.9],[26.82,107.6],[26.84,109.3],
  [26.88,97.8],[26.89,99.6],[26.87,101.3],[26.9,103.0],[26.88,104.6],[26.89,106.3],[26.91,108.0],[26.89,109.7],[26.9,111.2],
  [26.96,97.2],[26.97,98.9],[26.95,100.6],[26.98,102.3],[26.96,104.0],[26.97,105.7],[26.99,107.3],[26.97,109.0],[26.98,110.7],[26.99,112.1],
  [26.07,98.4],[26.07,100.0],[26.08,101.7],[26.07,103.4],[26.08,105.0],[26.07,106.7],[26.08,108.3],
  [26.14,99.2],[26.15,100.9],[26.14,102.5],[26.15,104.2],[26.14,105.9],[26.15,107.5],[26.14,109.2],
  [26.22,97.8],[26.22,99.7],[26.23,101.3],[26.22,103.0],[26.23,104.6],[26.22,106.3],[26.23,108.0],
  [26.29,100.2],[26.29,101.9],[26.3,103.6],[26.29,105.3],[26.3,106.9],[26.29,108.6],
  [26.36,99.4],[26.36,101.0],[26.37,102.7],[26.36,104.4],[26.37,106.0],[26.36,107.7],[26.37,109.4],
  [26.44,99.9],[26.44,101.7],[26.45,103.4],[26.44,105.1],[26.45,106.8],[26.44,108.4],
  [26.52,99.3],[26.52,101.0],[26.53,102.7],[26.52,104.4],[26.53,106.1],[26.52,107.8],[26.53,109.5],
  [26.6,99.0],[26.6,100.7],[26.61,102.4],[26.6,104.0],[26.61,105.7],[26.6,107.4],[26.61,109.1],
  [26.68,99.6],[26.68,101.3],[26.69,103.0],[26.68,104.6],[26.69,106.2],[26.68,108.0],
  [26.76,98.2],[26.76,100.3],[26.77,102.0],[26.76,103.7],[26.77,105.4],[26.76,107.1],[26.77,108.8],
  [26.85,98.4],[26.85,100.0],[26.86,101.7],[26.85,103.4],[26.86,105.1],[26.85,106.8],[26.86,108.5],
  [26.93,98.5],[26.93,100.2],[26.94,101.9],[26.93,103.6],[26.94,105.3],[26.93,107.0],[26.94,108.6],[26.93,110.2],[26.94,111.6]];

const medidas27_28 = [[27.01,95.7],[27.04,96.6],[27.05,98.3],[27.03,100.0],[27.06,101.7],[27.04,103.4],[27.05,105.0],[27.07,106.7],[27.05,108.4],[27.06,110.1],[27.06,111.8],[27.05,113.0],
  [27.12,97.6],[27.13,99.3],[27.11,101.0],[27.14,102.7],[27.12,104.4],[27.13,106.0],[27.15,107.7],[27.13,109.4],
  [27.2,97.1],[27.21,98.7],[27.19,100.4],[27.22,102.1],[27.2,103.8],[27.21,105.5],[27.23,107.1],[27.21,108.8],[27.22,110.4],
  [27.28,98.0],[27.29,99.7],[27.27,101.4],[27.3,103.1],[27.28,104.8],[27.29,106.5],[27.31,108.2],[27.29,109.8],
  [27.36,100.5],[27.37,102.3],[27.35,104.0],[27.38,105.6],[27.36,107.3],[27.37,109.0],[27.39,110.6],
  [27.44,104.4],[27.45,106.1],[27.43,107.8],[27.46,109.5],[27.44,111.2],[27.45,112.8],
  [27.52,105.0],[27.53,106.7],[27.51,108.4],[27.54,110.1],[27.52,111.7],[27.53,113.2],
  [27.6,104.8],[27.61,106.4],[27.59,108.1],[27.62,109.8],[27.6,111.4],[27.61,112.9],[27.63,114.0],
  [27.67,105.3],[27.68,107.0],[27.66,108.7],[27.69,110.4],[27.67,112.0],[27.68,113.5],
  [27.74,107.6],[27.75,109.3],[27.73,111.0],[27.76,112.6],[27.74,113.9],
  [27.81,108.3],[27.82,110.0],[27.8,111.7],[27.83,112.8],[27.81,113.8],[27.82,114.4],
  [27.86,107.2],[27.87,109.4],[27.88,111.6],[27.89,112.5],[27.88,113.4],[27.9,114.3],
  [27.94,112.2],[27.95,113.0],[27.93,113.8],[27.96,114.5],
  [28.0,112.0],[28.01,112.8],[28.02,113.6],[28.0,114.4],[28.03,114.0],
  [28.07,112.3],[28.08,113.1],[28.06,113.9],[28.09,114.5],
  [28.13,112.5],[28.14,113.3],[28.12,114.1],[28.15,114.4],[28.18,113.0],[28.19,113.8],
  [27.08,97.0],[27.09,99.1],[27.08,100.8],[27.09,102.5],[27.08,104.2],[27.09,105.8],[27.08,107.5],[27.09,109.2],[27.09,110.9],[27.1,112.4],
  [27.16,98.4],[27.17,100.1],[27.16,101.8],[27.17,103.5],[27.16,105.2],[27.17,106.8],[27.16,108.5],[27.17,110.1],
  [27.24,97.8],[27.25,99.5],[27.24,101.2],[27.25,102.9],[27.24,104.6],[27.25,106.3],[27.24,107.9],[27.25,109.6],
  [27.32,99.0],[27.33,100.6],[27.32,102.2],[27.33,103.9],[27.32,105.6],[27.33,107.3],[27.32,109.0],[27.33,110.6],
  [27.4,101.4],[27.41,103.1],[27.4,104.8],[27.41,106.5],[27.4,108.2],[27.41,109.8],[27.42,111.4],
  [27.48,105.2],[27.49,106.9],[27.48,108.6],[27.49,110.3],[27.48,112.0],[27.49,113.5],
  [27.56,105.8],[27.57,107.5],[27.56,109.2],[27.57,110.9],[27.56,112.5],[27.57,113.8],
  [27.64,105.6],[27.65,107.2],[27.64,108.9],[27.65,110.6],[27.64,112.3],[27.65,113.7],
  [27.71,106.2],[27.72,108.1],[27.71,109.8],[27.72,111.5],[27.71,113.1],[27.72,114.2],
  [27.78,108.5],[27.79,110.2],[27.78,111.9],[27.79,113.3],[27.78,114.3],
  [27.84,108.2],[27.85,110.6],[27.85,112.2],[27.86,113.6],[27.85,114.6],
  [27.91,111.9],[27.92,112.9],[27.91,113.7],[27.92,114.6],
  [27.97,111.8],[27.98,112.6],[27.97,113.4],[27.98,114.2],
  [28.04,112.4],[28.05,113.3],[28.04,114.8],
  [28.1,111.8],[28.11,112.7],[28.1,113.6],
  [28.16,112.0],[28.17,112.9],[28.16,113.8],[28.2,113.4]];

const zonasMedidas = [medidas14_16, medidas16_18, medidas18_20, medidas20_22, medidas22_24, medidas24_25, medidas25_26, medidas26_27, medidas27_28];

document.addEventListener("DOMContentLoaded", () => {
  const fuente = "'Liberation Sans', Arial, Helvetica, sans-serif";
  const colorEjes = "#262626";

  const puntos = [];
  zonasMedidas.forEach(zona => zona.forEach(p => puntos.push({ x: p[0], y: p[1] })));
  const lineaFI = modeloFIx.map((x, i) => ({ x, y: modeloFIy[i] }));
  const lineaCI = modeloCIx.map((x, i) => ({ x, y: modeloCIy[i] }));

  // Fondo gris, caja, marcas interiores, titulo, etiquetas y leyenda al estilo MATLAB
  const estiloMatlab = {
    id: "estiloMatlab",
    beforeDraw(chart) {
      const { ctx, chartArea: a } = chart;
      ctx.save();
      ctx.fillStyle = "#f0f0f0";
      ctx.fillRect(0, 0, chart.width, chart.height);
      ctx.fillStyle = "#ffffff";
      ctx.fillRect(a.left, a.top, a.right - a.left, a.bottom - a.top);
      ctx.restore();
    },
    afterDraw(chart) {
      const { ctx, chartArea: a } = chart;
      const sx = chart.scales.x;
      const sy = chart.scales.y;
      const largo = 5;
      ctx.save();
      ctx.strokeStyle = colorEjes;
      ctx.lineWidth = 1;
      ctx.beginPath();
      sx.ticks.forEach(t => {
        const px = Math.round(sx.getPixelForValue(t.value)) + 0.5;
        ctx.moveTo(px, a.bottom); ctx.lineTo(px, a.bottom - largo);
        ctx.moveTo(px, a.top); ctx.lineTo(px, a.top + largo);
      });
      sy.ticks.forEach(t => {
        const py = Math.round(sy.getPixelForValue(t.value)) + 0.5;
        ctx.moveTo(a.left, py); ctx.lineTo(a.left + largo, py);
        ctx.moveTo(a.right, py); ctx.lineTo(a.right - largo, py);
      });
      ctx.stroke();
      ctx.strokeRect(Math.round(a.left) + 0.5, Math.round(a.top) + 0.5,
        Math.round(a.right - a.left), Math.round(a.bottom - a.top));

      const cx = (a.left + a.right) / 2;
      ctx.fillStyle = "#000000";
      ctx.textAlign = "center";
      ctx.textBaseline = "middle";
      ctx.font = "bold 16px " + fuente;
      ctx.fillText(titulo, cx, 20);

      ctx.fillStyle = colorEjes;
      ctx.font = "17px " + fuente;
      ctx.fillText(etiquetaX, cx, 538);

      // eje Y: "Ldc" + subindice "c" + "on", girado
      ctx.save();
      ctx.translate(43, (a.top + a.bottom) / 2);
      ctx.rotate(-Math.PI / 2);
      ctx.textBaseline = "alphabetic";
      ctx.textAlign = "left";
      const fNormal = "17px " + fuente;
      const fSub = "12px " + fuente;
      ctx.font = fNormal;
      const w1 = ctx.measureText(etiquetaY[0]).width;
      const w3 = ctx.measureText(etiquetaY[2]).width;
      ctx.font = fSub;
      const w2 = ctx.measureText(etiquetaY[1]).width;
      const x0 = -(w1 + w2 + w3) / 2;
      ctx.font = fNormal;
      ctx.fillText(etiquetaY[0], x0, 0);
      ctx.font = fSub;
      ctx.fillText(etiquetaY[1], x0 + w1, 5);
      ctx.font = fNormal;
      ctx.fillText(etiquetaY[2], x0 + w1 + w2, 0);
      ctx.restore();

      // leyenda
      const lx = 514, ly = 389, lw = 140, lh = 70;
      ctx.fillStyle = "#ffffff";
      ctx.fillRect(lx, ly, lw, lh);
      ctx.strokeStyle = colorEjes;
      ctx.strokeRect(lx + 0.5, ly + 0.5, lw, lh);
      const filas = [ly + 15, ly + 37, ly + 59];
      ctx.fillStyle = "#0000ff";
      ctx.beginPath();
      ctx.arc(546, filas[0], 2.2, 0, Math.PI * 2);
      ctx.fill();
      ctx.strokeStyle = "#ff0000";
      ctx.lineWidth = 1;
      ctx.beginPath();
      ctx.moveTo(520, filas[1]); ctx.lineTo(572, filas[1]);
      ctx.stroke();
      ctx.setLineDash([10, 6]);
      ctx.beginPath();
      ctx.moveTo(520, filas[2]); ctx.lineTo(574, filas[2]);
      ctx.stroke();
      ctx.setLineDash([]);
      ctx.fillStyle = "#000000";
      ctx.font = "16px " + fuente;
      ctx.textAlign = "left";
      ctx.textBaseline = "middle";
      nombresSeries.forEach((n, i) => ctx.fillText(n, 577, filas[i]));
      ctx.restore();
    }
  };

  const ctx = document.getElementById("grafico").getContext("2d");
  new Chart(ctx, {
    type: "scatter",
    data: {
      datasets: [
        {
          label: nombresSeries[1],
          type: "line",
          data: lineaFI,
          borderColor: "#ff0000",
          borderWidth: 1,
          pointRadius: 0,
          fill: false,
          order: 0
        },
        {
          label: nombresSeries[2],
          type: "line",
          data: lineaCI,
          borderColor: "#ff0000",
          borderWidth: 1,
          borderDash: [10, 6],
          pointRadius: 0,
          fill: false,
          order: 0
        },
        {
          label: nombresSeries[0],
          data: puntos,
          backgroundColor: "#0000ff",
          borderWidth: 0,
          pointRadius: 2.3,
          order: 1
        }
      ]
    },
    options: {
      responsive: false,
      animation: false,
      devicePixelRatio: 1,
      events: [],
      layout: { padding: { left: 0, right: 29, top: 37, bottom: 0 } },
      plugins: {
        legend: { display: false },
        title: { display: false },
        tooltip: { enabled: false }
      },
      scales: {
        x: {
          type: "linear",
          min: ticksX[0],
          max: ticksX[ticksX.length - 1],
          afterBuildTicks: s => { s.ticks = ticksX.map(v => ({ value: v })); },
          afterFit: s => { s.height = 57; },
          grid: { display: false, drawTicks: false },
          border: { display: false },
          ticks: { color: colorEjes, padding: 10, font: { family: fuente, size: 16 } }
        },
        y: {
          type: "linear",
          min: ticksY[0],
          max: ticksY[ticksY.length - 1],
          afterBuildTicks: s => { s.ticks = ticksY.map(v => ({ value: v })); },
          afterFit: s => { s.width = 100; },
          grid: { display: false, drawTicks: false },
          border: { display: false },
          ticks: { color: colorEjes, padding: 8, font: { family: fuente, size: 16 } }
        }
      }
    },
    plugins: [estiloMatlab]
  });
});
</script>
</body>
</html>
